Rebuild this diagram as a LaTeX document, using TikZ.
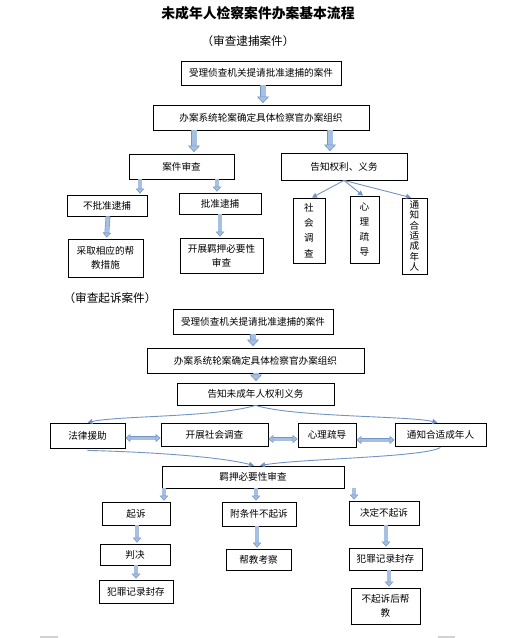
\documentclass[tikz,border=0pt]{standalone}
\usepackage{fontspec}
\setmainfont{Noto Sans CJK SC}
\usetikzlibrary{arrows.meta,calc}

\definecolor{arrowfill}{RGB}{166,192,228}
\definecolor{arrowedge}{RGB}{116,150,198}
\definecolor{linkblue}{RGB}{112,148,196}

\begin{document}
\begin{tikzpicture}[
    x=1pt, y=-1pt,
    box/.style={rectangle, draw=black, line width=0.8pt, inner sep=1pt,
                align=center, font=\fontsize{9.6}{14}\selectfont},
    wh/.style 2 args={minimum width=#1, minimum height=#2},
    heading/.style={font=\fontsize{11.6}{14}\selectfont},
    fatarrow/.style={draw=arrowfill, line width=5pt, shorten >=1.5pt,
                -{Triangle[length=6.5pt, width=12pt, fill=arrowfill, color=arrowedge, line width=0.6pt]},
                preaction={draw=arrowedge, line width=6.4pt, -, shorten >=6pt}},
    slimarrow/.style={draw=arrowfill, line width=3.6pt, shorten >=1pt,
                -{Triangle[length=5pt, width=8.5pt, fill=arrowfill, color=arrowedge, line width=0.6pt]},
                preaction={draw=arrowedge, line width=4.8pt, -, shorten >=4.5pt}},
    twinarrow/.style={draw=arrowfill, line width=3pt,
                {Triangle[length=5pt, width=8pt, fill=arrowfill, color=arrowedge, line width=0.6pt]}-{Triangle[length=5pt, width=8pt, fill=arrowfill, color=arrowedge, line width=0.6pt]},
                preaction={draw=arrowedge, line width=4.2pt, -, shorten >=4pt, shorten <=4pt}},
    link/.style={draw=linkblue, line width=0.9pt, -{Triangle[length=5pt, width=5pt]}}
]
    \useasboundingbox (0,0) rectangle (513,638);

    % titles
    \node[font=\fontsize{13.8}{16}\selectfont\bfseries] (title) at (258,13) {未成年人检察案件办案基本流程};
    \node[heading] (arrest) at (248,41) {（审查逮捕案件）};
    \node[heading] (prosecute) at (110,298) {（审查起诉案件）};

    % review of arrest
    \node[box, wh={160}{24}] (a1) at (261,73) {受理侦查机关提请批准逮捕的案件};
    \node[box, wh={216}{25}] (a2) at (261,117.5) {办案系统轮案确定具体检察官办案组织};
    \node[box, wh={105}{25}] (a3) at (181.5,166.5) {案件审查};
    \node[box, wh={126}{27}] (a4) at (344,166.5) {告知权利、义务};
    \node[box, wh={80}{21}] (a5) at (107,205.5) {不批准逮捕};
    \node[box, wh={82}{21}] (a6) at (220,203.5) {批准逮捕};
    \node[box, wh={75}{38}] (a7) at (105.5,258) {采取相应的帮\\教措施};
    \node[box, wh={83}{35}] (a8) at (221.5,255.5) {开展羁押必要性\\审查};
    \node[box, wh={32}{65}, font=\fontsize{9.6}{15.3}\selectfont] (a9) at (309,230.5) {社\\会\\调\\查};
    \node[box, wh={29}{67}, font=\fontsize{9.6}{14.7}\selectfont] (a10) at (364.5,229.5) {心\\理\\疏\\导};
    \node[box, wh={25}{76}, font=\fontsize{9.6}{10.3}\selectfont] (a11) at (414.5,236) {通\\知\\合\\适\\成\\年\\人};

    \draw[fatarrow] ([xshift=2pt]a1.south) -- ([xshift=2pt]a2.north);
    \draw[fatarrow] ([xshift=-67pt]a2.south) -- ([xshift=12.5pt]a3.north);
    \draw[fatarrow] ([xshift=69pt]a2.south) -- ([xshift=-14pt]a4.north);
    \draw[slimarrow] ([xshift=-41.5pt]a3.south) -- ([xshift=33pt]a5.north);
    \draw[slimarrow] ([xshift=35.5pt]a3.south) -- ([xshift=-3pt]a6.north);
    \draw[slimarrow] ([xshift=1pt]a5.south) -- ([xshift=1pt]a7.north);
    \draw[slimarrow] (a6.south) -- ([xshift=-1.5pt]a8.north);
    \draw[link] (a4.south) -- ([xshift=3pt]a9.north);
    \draw[link] (a4.south) -- ([xshift=-1.5pt]a10.north);
    \draw[link] (a4.south) -- ([xshift=-3.5pt]a11.north);

    % review of prosecution
    \node[box, wh={160}{25}] (b1) at (253,321.5) {受理侦查机关提请批准逮捕的案件};
    \node[box, wh={217}{25}] (b2) at (255.5,360.5) {办案系统轮案确定具体检察官办案组织};
    \node[box, wh={157}{22}] (b3) at (255.5,394) {告知未成年人权利义务};
    \node[box, wh={75}{25}] (b4) at (87.5,435.5) {法律援助};
    \node[box, wh={107}{23}] (b5) at (214.5,434.5) {开展社会调查};
    \node[box, wh={58}{24}] (b6) at (327,435) {心理疏导};
    \node[box, wh={91}{23}] (b7) at (440.5,434.5) {通知合适成年人};
    \node[box, wh={182}{22}] (b8) at (253,477) {羁押必要性审查};
    \node[box, wh={68}{23}] (b9) at (136,513.5) {起诉};
    \node[box, wh={74}{24}] (b10) at (259,514) {附条件不起诉};
    \node[box, wh={70}{24}] (b11) at (384,513) {决定不起诉};
    \node[box, wh={70}{21}] (b12) at (135,554.5) {判决};
    \node[box, wh={74}{23}] (b13) at (136,591.5) {犯罪记录封存};
    \node[box, wh={65}{21}] (b14) at (258.5,559.5) {帮教考察};
    \node[box, wh={73}{22}] (b15) at (385.5,559) {犯罪记录封存};
    \node[box, wh={69}{36}] (b16) at (385.5,606) {不起诉后帮\\教};

    \draw[fatarrow] (b1.south) -- ([xshift=-2.5pt]b2.north);
    \draw[fatarrow] ([xshift=0.5pt]b2.south) -- ([xshift=0.5pt]b3.north);
    \draw[link] (b3.south) .. controls +(-40,12) and +(30,-7) .. (b4.north);
    \draw[link] (b3.south) .. controls +(40,12) and +(-30,-7) .. ([xshift=-3pt]b7.north);
    \draw[twinarrow] ([yshift=-2.5pt]b4.east) -- ([yshift=-3.5pt]b5.west);
    \draw[twinarrow] ([yshift=-4.5pt]b5.east) -- ([yshift=-4pt]b6.west);
    \draw[twinarrow] ([yshift=-5pt]b6.east) -- ([yshift=-5.5pt]b7.west);
    \draw[link] ([yshift=-2pt]b4.south) .. controls +(75,2) and +(-30,-8) .. ([xshift=1pt]b8.north);
    \draw[link] ([yshift=-1pt]b7.south) .. controls +(-15,10) and +(40,-7) .. ([xshift=7pt]b8.north);
    \draw[slimarrow] ([xshift=-89pt]b8.south) -- ([xshift=28pt]b9.north);
    \draw[slimarrow] ([xshift=3pt]b8.south) -- ([xshift=-3pt]b10.north);
    \draw[slimarrow] ([xshift=101pt]b8.south) -- ([xshift=-30pt]b11.north);
    \draw[slimarrow] ([xshift=1pt]b9.south) -- ([xshift=2pt]b12.north);
    \draw[slimarrow] ([xshift=1pt]b12.south) -- (b13.north);
    \draw[slimarrow] ([xshift=-2pt]b10.south) -- ([xshift=-1.5pt]b14.north);
    \draw[slimarrow] ([xshift=2pt]b11.south) -- ([xshift=0.5pt]b15.north);
    \draw[slimarrow] ([xshift=3.5pt]b15.south) -- ([xshift=3.5pt]b16.north);

    % page corner marks
    \draw[gray!35, line width=1.5pt] (40,637) -- (58,637);
    \draw[gray!35, line width=1.5pt] (438,637) -- (455,637);
\end{tikzpicture}
\end{document}
